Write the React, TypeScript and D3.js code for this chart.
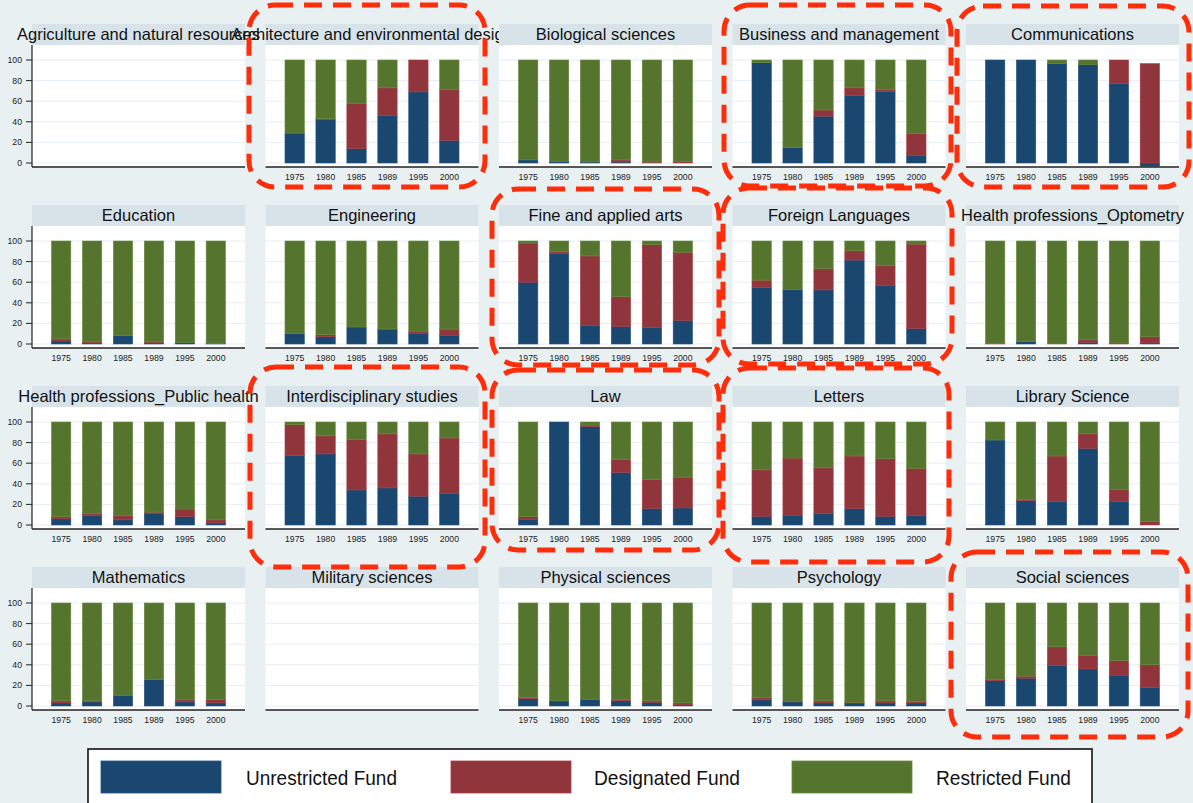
import React from 'react';
import * as d3 from 'd3';

const years = ['1975', '1980', '1985', '1989', '1995', '2000'];

const fields = [
  'Agriculture and natural resources',
  'Architecture and environmental design',
  'Biological sciences',
  'Business and management',
  'Communications',
  'Education',
  'Engineering',
  'Fine and applied arts',
  'Foreign Languages',
  'Health professions_Optometry',
  'Health professions_Public health',
  'Interdisciplinary studies',
  'Law',
  'Letters',
  'Library Science',
  'Mathematics',
  'Military sciences',
  'Physical sciences',
  'Psychology',
  'Social sciences',
];

const unrestricted: (number[] | null)[] = [
  null,
  [29, 42, 14, 46, 69, 22],
  [3, 1.5, 1, 1, 0, 0],
  [97.5, 15, 45.5, 65.5, 69.5, 7.5],
  [100, 100, 96.5, 95.5, 77, -3],
  [3, 1, 8, 1, 1.5, 0.5],
  [10, 7, 16.5, 14.5, 10.5, 8.5],
  [60, 88, 18, 17, 16, 23],
  [55, 53, 52.5, 81.5, 57, 15],
  [0, 2.5, 0, 1.5, 0, 1],
  [6, 9, 5, 11.5, 8, 2],
  [67.5, 69, 34, 36, 28, 30.5],
  [5.5, 100, 95.5, 51, 16, 16.5],
  [8.5, 9.5, 11, 16, 8.5, 9],
  [82.5, 23.5, 23, 74.5, 23, 0],
  [3, 4, 10, 25.5, 4, 3],
  null,
  [7, 5, 6.5, 5, 3.5, 1],
  [6, 4, 3, 3, 3, 3],
  [24.5, 27, 39.5, 36, 30, 18],
];

const designated: (number[] | null)[] = [
  null,
  [0, 1, 44, 27, 31, 49.5],
  [0, 0, 0, 2, 1, 1.5],
  [0, 0, 6, 7.5, 2, 21],
  [0, 0, 0, 0, 23, 96.5],
  [2, 1, 0, 1, 0, 0],
  [0, 2, 0, 0, 2, 6],
  [38, 1.5, 67.5, 29, 80.5, 66],
  [7, 0, 20.5, 9, 19, 82],
  [0.5, 0, 0, 2.5, 1, 6],
  [2, 2, 4, 1, 7.5, 3],
  [30, 17.5, 49, 52.5, 41, 54],
  [2.5, 0, 1.5, 12.5, 28, 30],
  [45, 55.5, 44.5, 51, 56, 46],
  [0, 1.5, 44, 14, 11.5, 3.5],
  [2, 1, 0.5, 0, 2, 3.5],
  null,
  [1, 0, 0, 1.5, 1.5, 2],
  [2, 0.5, 2, 0.5, 2, 1.5],
  [1.5, 2, 18, 13, 14, 22],
];

const restricted: (number[] | null)[] = [
  null,
  [71, 57, 42, 27, 0, 28.5],
  [97, 98.5, 99, 97, 99, 98.5],
  [2.5, 85, 48.5, 27, 28.5, 71.5],
  [0, 0, 3.5, 4.5, 0, 0],
  [95, 98, 92, 98, 98.5, 99.5],
  [90, 91, 83.5, 85.5, 87.5, 85.5],
  [2, 10.5, 14.5, 54, 3.5, 11],
  [38, 47, 27, 9.5, 24, 3],
  [99.5, 97.5, 100, 96, 99, 93],
  [92, 89, 91, 87.5, 84.5, 95],
  [2.5, 13.5, 17, 11.5, 31, 15.5],
  [92, 0, 3, 36.5, 56, 53.5],
  [46.5, 35, 44.5, 33, 35.5, 45],
  [17.5, 75, 33, 11.5, 65.5, 96.5],
  [95, 95, 89.5, 74.5, 94, 93.5],
  null,
  [92, 95, 93.5, 93.5, 95, 97],
  [92, 95.5, 95, 96.5, 95, 95.5],
  [74, 71, 42.5, 51, 56, 60],
];

const seriesNames = ['Unrestricted Fund', 'Designated Fund', 'Restricted Fund'];
const seriesKeys = ['U', 'D', 'R'];
const seriesColors = ['#1a476f', '#90353b', '#55752f'];
const yTicks = [0, 20, 40, 60, 80, 100];

// annotation overlay (layout): dashed highlight boxes [x0, y0, x1, y1]
const highlightBoxes: [number, number, number, number][] = [
  [249, 5, 485, 187],
  [724, 5, 951, 186],
  [957, 6, 1189, 187],
  [492, 189, 719, 365],
  [723, 188, 952, 364],
  [250, 367, 485, 567],
  [492, 370, 719, 550],
  [723, 368, 949, 562],
  [951, 552, 1188, 737],
];

const W = 1193;
const H = 803;
const colX0 = 32;
const colStep = 233.5;
const panelW = 213;
const rowY0 = 24;
const rowStep = 181;
const titleH = 21;
const axisOff = 143;
const zeroOff = 139;
const hundredOff = 36;
const FONT = '"Liberation Sans", Arial, Helvetica, sans-serif';

const x = d3.scaleBand<string>().domain(years).range([0, panelW]).paddingInner(0.375).paddingOuter(0.63);
const y = d3.scaleLinear().domain([0, 100]).range([zeroOff, hundredOff]);

function Panel({ idx }: { idx: number }) {
  const col = idx % 5;
  const row = Math.floor(idx / 5);
  const left = colX0 + col * colStep;
  const top = rowY0 + row * rowStep;
  const u = unrestricted[idx];
  const d = designated[idx];
  const r = restricted[idx];
  const hasData = !!(u && d && r);
  let series: any[] = [];
  if (u && d && r) {
    const table = years.map((yr, i) => ({ year: yr, U: u[i], D: d[i], R: r[i] }));
    series = d3.stack<any>().keys(seriesKeys).offset(d3.stackOffsetDiverging)(table);
  }
  return (
    <g transform={`translate(${left},${top})`}>
      <rect x={0} y={0} width={panelW} height={titleH} fill="#d7e3e9" />
      <text x={panelW / 2} y={15.5} textAnchor="middle" fontFamily={FONT} fontSize={16.5} fill="#111">
        {fields[idx]}
      </text>
      <rect x={0} y={titleH} width={panelW} height={axisOff - titleH} fill="#ffffff" />
      {yTicks.map((t) => (
        <line key={t} x1={0} x2={panelW} y1={y(t)} y2={y(t)} stroke="#e6eef1" strokeWidth={1} />
      ))}
      {series.map((s, k) =>
        s.map((p: any, i: number) => {
          const y0 = y(p[0]);
          const y1 = y(p[1]);
          const h = Math.abs(y0 - y1);
          if (h < 0.01) return null;
          return (
            <rect
              key={`${k}-${i}`}
              x={x(years[i])}
              y={Math.min(y0, y1)}
              width={x.bandwidth()}
              height={h}
              fill={seriesColors[k]}
              stroke={d3.color(seriesColors[k])!.brighter(0.5).toString()}
              strokeWidth={0.6}
            />
          );
        })
      )}
      <line x1={0} x2={panelW} y1={axisOff} y2={axisOff} stroke="#222" strokeWidth={1.4} />
      {hasData &&
        years.map((yr) => (
          <text
            key={yr}
            x={(x(yr) as number) + x.bandwidth() / 2}
            y={axisOff + 13}
            textAnchor="middle"
            fontFamily={FONT}
            fontSize={8.7}
            fill="#222"
          >
            {yr}
          </text>
        ))}
      {col === 0 && (
        <g>
          <line x1={0} x2={0} y1={titleH} y2={axisOff} stroke="#222" strokeWidth={1.2} />
          {yTicks.map((t) => (
            <g key={t}>
              <line x1={-6} x2={0} y1={y(t)} y2={y(t)} stroke="#222" strokeWidth={1} />
              <text x={-10} y={y(t) + 3} textAnchor="end" fontFamily={FONT} fontSize={8.7} fill="#222">
                {t}
              </text>
            </g>
          ))}
        </g>
      )}
    </g>
  );
}

const legendSwatchX = [101, 451, 792];
const legendLabelX = [246, 594, 936];
const legendLabelW = [151, 146, 135];

export default function App() {
  return (
    <svg
      width={W}
      height={H}
      viewBox={`0 0 ${W} ${H}`}
      style={{ position: 'absolute', left: 0, top: 0, display: 'block' }}
    >
      <rect x={0} y={0} width={W} height={H} fill="#e8f0f2" />
      {fields.map((_, i) => (
        <Panel key={i} idx={i} />
      ))}
      <g>
        <rect x={88} y={749} width={1004} height={70} fill="#ffffff" stroke="#111" strokeWidth={1.6} />
        {seriesNames.map((name, k) => (
          <g key={name}>
            <rect
              x={legendSwatchX[k]}
              y={761}
              width={120}
              height={32}
              fill={seriesColors[k]}
              stroke={d3.color(seriesColors[k])!.brighter(0.5).toString()}
              strokeWidth={0.8}
            />
            <text
              x={legendLabelX[k]}
              y={785}
              fontFamily={FONT}
              fontSize={21}
              textLength={legendLabelW[k]}
              lengthAdjust="spacingAndGlyphs"
              fill="#111"
            >
              {name}
            </text>
          </g>
        ))}
      </g>
      {highlightBoxes.map((b, i) => (
        <rect
          key={i}
          x={b[0]}
          y={b[1]}
          width={b[2] - b[0]}
          height={b[3] - b[1]}
          rx={26}
          ry={26}
          fill="none"
          stroke="#ff2d0a"
          strokeWidth={5}
          strokeDasharray="18 11"
        />
      ))}
    </svg>
  );
}
